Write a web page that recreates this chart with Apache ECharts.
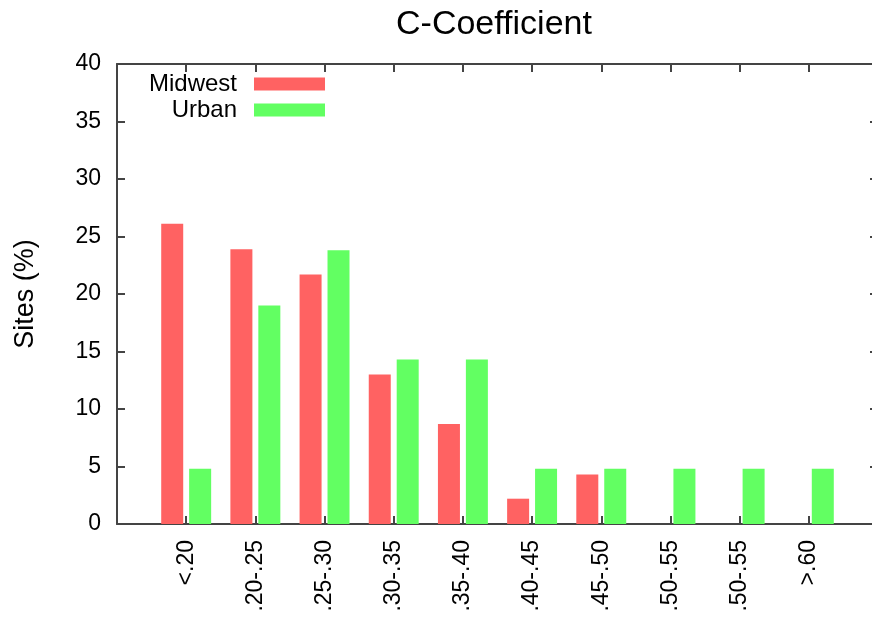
<!DOCTYPE html>
<html>
<head>
<meta charset="utf-8">
<script src="https://cdn.jsdelivr.net/npm/echarts@6/dist/echarts.min.js"></script>
<style>html,body{margin:0;padding:0;background:#fff;}#c{width:872px;height:618px;}</style>
</head>
<body>
<div id="c"></div>
<script>
const categories = ['<.20', '.20-.25', '.25-.30', '.30-.35', '.35-.40', '.40-.45', '.45-.50', '.50-.55', '.50-.55', '>.60'];
const midwest = [26.1, 23.9, 21.7, 13.0, 8.7, 2.2, 4.3, 0, 0, 0];
const urban = [4.8, 19.0, 23.8, 14.3, 14.3, 4.8, 4.8, 4.8, 4.8, 4.8];
const seriesNames = ['Midwest', 'Urban'];
const titleText = 'C-Coefficient';
const yName = 'Sites (%)';

const FONT = 'Liberation Sans, Arial, sans-serif';
const AX = '#444';
const chart = echarts.init(document.getElementById('c'));
const toPairs = arr => arr.map((v, i) => [i, v]);
const axisLineStyle = { show: true, onZero: false, lineStyle: { color: AX, width: 2 } };
const tickStyle = { show: true, inside: true, length: 8, lineStyle: { color: AX, width: 2 } };

chart.setOption({
  backgroundColor: '#fff',
  animation: false,
  title: {
    text: titleText, left: 396, top: 8, padding: 0,
    textStyle: { fontFamily: FONT, fontSize: 34, fontWeight: 'normal', color: '#000' }
  },
  legend: {
    orient: 'vertical', right: 547, top: 72, padding: 0, itemGap: 2,
    align: 'right', itemWidth: 71, itemHeight: 13, icon: 'rect',
    textStyle: { fontFamily: FONT, fontSize: 24, color: '#000', padding: [0, 12, 0, 0] },
    data: seriesNames
  },
  grid: { left: 117, right: -6, top: 64, bottom: 94, containLabel: false, outerBoundsMode: 'none' },
  xAxis: [
    {
      type: 'value', min: -1, max: 10, interval: 1, position: 'bottom',
      axisLine: axisLineStyle, axisTick: tickStyle, splitLine: { show: false },
      axisLabel: {
        rotate: 90, margin: 16, fontFamily: FONT, fontSize: 23, color: '#000',
        formatter: v => (v >= 0 && v < categories.length) ? categories[v] : ''
      }
    },
    {
      type: 'value', min: -1, max: 10, interval: 1, position: 'top',
      axisLine: axisLineStyle, axisTick: tickStyle, splitLine: { show: false },
      axisLabel: { show: false }
    }
  ],
  yAxis: [
    {
      type: 'value', min: 0, max: 40, interval: 5, position: 'left',
      name: yName, nameLocation: 'middle', nameGap: 78,
      nameTextStyle: { fontFamily: FONT, fontSize: 27, color: '#000' },
      axisLine: axisLineStyle, axisTick: tickStyle, splitLine: { show: false },
      axisLabel: { margin: 16, fontFamily: FONT, fontSize: 23, color: '#000' }
    },
    {
      type: 'value', min: 0, max: 40, interval: 5, position: 'right',
      axisLine: axisLineStyle, axisTick: tickStyle, splitLine: { show: false },
      axisLabel: { show: false }
    }
  ],
  series: [
    { name: seriesNames[0], type: 'bar', xAxisIndex: 0, yAxisIndex: 0, data: toPairs(midwest),
      barWidth: 22, barGap: '27%', itemStyle: { color: '#ff6262' } },
    { name: seriesNames[1], type: 'bar', xAxisIndex: 0, yAxisIndex: 0, data: toPairs(urban),
      barWidth: 22, barGap: '27%', itemStyle: { color: '#62ff62' } }
  ]
});
</script>
</body>
</html>
